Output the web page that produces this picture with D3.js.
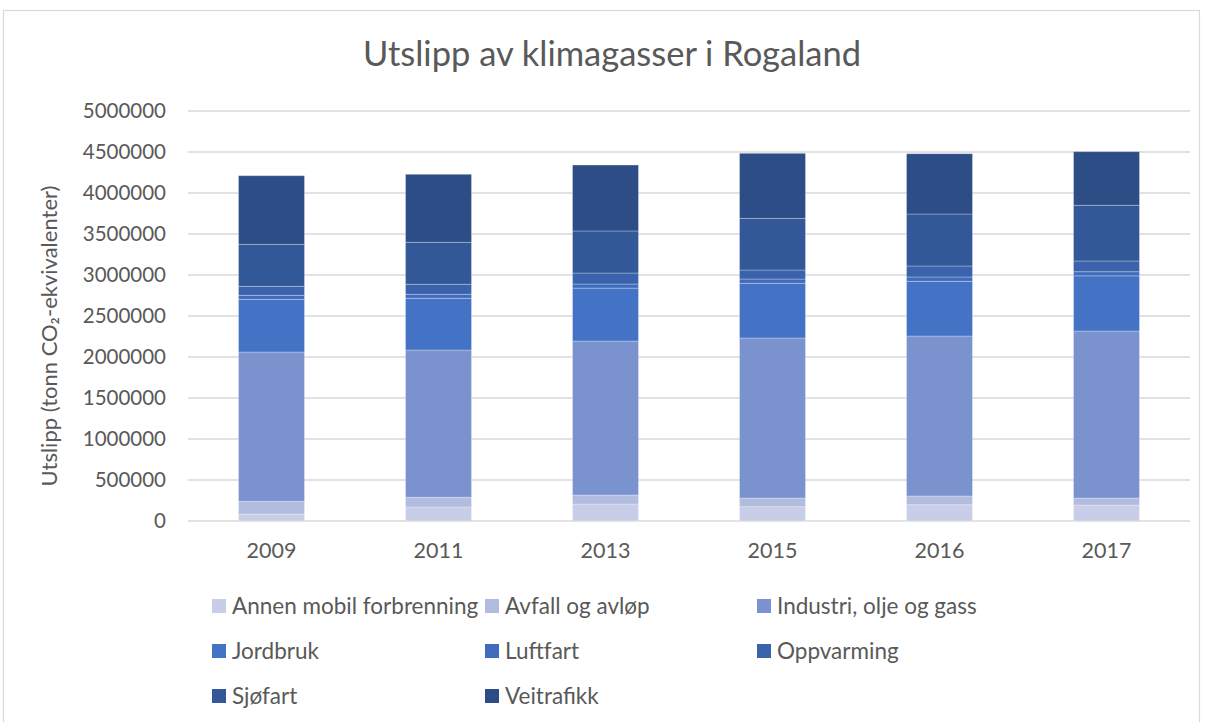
<!DOCTYPE html>
<html>
<head>
<meta charset="utf-8">
<script src="https://cdn.jsdelivr.net/npm/d3@7"></script>
<style>
  html, body { margin: 0; padding: 0; background: #fff; }
  svg { display: block; font-family: Lato, "Open Sans", sans-serif; }
</style>
</head>
<body>
<svg id="chart" width="1205" height="722"></svg>
<script>
// Years on the x axis
const years = ["2009", "2011", "2013", "2015", "2016", "2017"];

// Emissions per sector (tonn CO2-ekvivalenter), stacked bottom to top
const annenMobil  = [85000, 171000, 207000, 175000, 199000, 195000];
const avfall      = [155000, 118000, 110000, 105000, 106000, 85000];
const industri    = [1821000, 1796000, 1878000, 1952000, 1951000, 2037000];
const jordbruk    = [642000, 631000, 645000, 667000, 667000, 673000];
const luftfart    = [49000, 49000, 50000, 52000, 53000, 50000];
const oppvarming  = [110000, 122000, 134000, 110000, 134000, 131000];
const sjofart     = [512000, 512000, 513000, 630000, 634000, 679000];
const veitrafikk  = [837000, 829000, 804000, 793000, 735000, 654000];

const seriesNames = ["Annen mobil forbrenning", "Avfall og avløp", "Industri, olje og gass",
                     "Jordbruk", "Luftfart", "Oppvarming", "Sjøfart", "Veitrafikk"];
const seriesValues = [annenMobil, avfall, industri, jordbruk, luftfart, oppvarming, sjofart, veitrafikk];
const seriesColors = ["#c8cee7", "#b1bcdf", "#7a93cf", "#4473c5", "#416cbd", "#3a63ab", "#335897", "#2c4d86"];

const yTicks = [0, 500000, 1000000, 1500000, 2000000, 2500000, 3000000, 3500000, 4000000, 4500000, 5000000];

// Build a row-per-year table for d3.stack
const table = years.map((yr, i) => {
  const row = { year: yr };
  seriesNames.forEach((name, s) => { row[name] = seriesValues[s][i]; });
  return row;
});

const svg = d3.select("#chart");
const textColor = "#595959";

// Chart frame
svg.append("rect")
  .attr("x", 3.5).attr("y", 10.5)
  .attr("width", 1196).attr("height", 720)
  .attr("fill", "#fff").attr("stroke", "#d9d9d9").attr("stroke-width", 1.2);

const plot = { left: 188, right: 1190, top: 111, bottom: 521 };

const x = d3.scaleBand()
  .domain(years)
  .range([plot.left, plot.right])
  .paddingInner(0.605)
  .paddingOuter(0.3025);

const y = d3.scaleLinear()
  .domain([0, 5000000])
  .range([plot.bottom, plot.top]);

// Horizontal gridlines
svg.append("g")
  .selectAll("line")
  .data(yTicks)
  .join("line")
  .attr("x1", plot.left).attr("x2", plot.right)
  .attr("y1", d => y(d)).attr("y2", d => y(d))
  .attr("stroke", "#d9d9d9").attr("stroke-width", 1.3);

// Y axis labels
const yAxis = d3.axisLeft(y).tickValues(yTicks).tickFormat(d3.format("d")).tickSize(0).tickPadding(0);
const yG = svg.append("g").attr("transform", `translate(${166},0)`).call(yAxis);
yG.select(".domain").remove();
yG.selectAll("text")
  .attr("fill", textColor)
  .style("font-size", "20.5px")
  .style("font-family", "Lato, 'Open Sans', sans-serif");

// X axis labels
const xAxis = d3.axisBottom(x).tickSize(0).tickPadding(0);
const xG = svg.append("g").attr("transform", `translate(0,${543})`).call(xAxis);
xG.select(".domain").remove();
xG.selectAll("text")
  .attr("fill", textColor)
  .attr("dy", "0.71em")
  .style("font-size", "21.5px")
  .style("font-family", "Lato, 'Open Sans', sans-serif");

// Stacked bars
const stack = d3.stack().keys(seriesNames);
const layers = stack(table);

svg.append("g")
  .selectAll("g")
  .data(layers)
  .join("g")
  .attr("fill", (d, i) => seriesColors[i])
  .selectAll("rect")
  .data(d => d)
  .join("rect")
  .attr("x", d => x(d.data.year))
  .attr("width", x.bandwidth())
  .attr("y", d => y(d[1]))
  .attr("height", d => y(d[0]) - y(d[1]))
  .attr("stroke", "rgba(255,255,255,0.28)")
  .attr("stroke-width", 1);

// Title
svg.append("text")
  .attr("x", 612).attr("y", 66)
  .attr("text-anchor", "middle")
  .attr("fill", textColor)
  .style("font-size", "34.5px")
  .text("Utslipp av klimagasser i Rogaland");

// Y axis title
const yTitle = svg.append("text")
  .attr("transform", `translate(57,${336}) rotate(-90)`)
  .attr("text-anchor", "middle")
  .attr("fill", textColor)
  .style("font-size", "22px");
yTitle.append("tspan").text("Utslipp (tonn CO");
yTitle.append("tspan").text("₂");
yTitle.append("tspan").text("-ekvivalenter)");

// Legend: three columns, three rows
const legendCols = [212, 485, 757];
const legendRows = [599, 644, 689];
const legend = svg.append("g")
  .selectAll("g")
  .data(seriesNames)
  .join("g")
  .attr("transform", (d, i) => `translate(${legendCols[i % 3]},${legendRows[Math.floor(i / 3)]})`);

legend.append("rect")
  .attr("width", 14).attr("height", 14)
  .attr("fill", (d, i) => seriesColors[i]);

legend.append("text")
  .attr("x", 20).attr("y", 14.5)
  .attr("fill", textColor)
  .style("font-size", "22.5px")
  .text(d => d);
</script>
</body>
</html>
